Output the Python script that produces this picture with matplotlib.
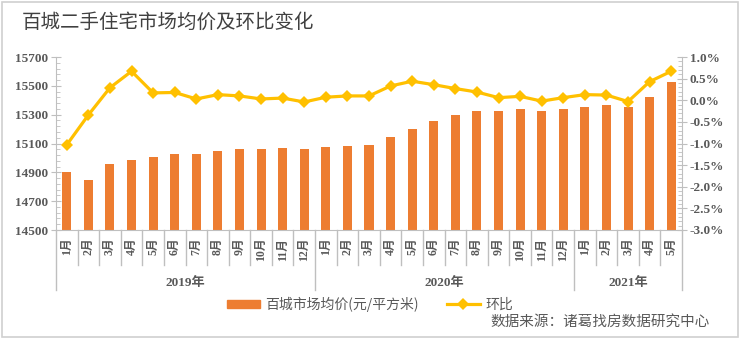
import numpy as np
import matplotlib.pyplot as plt
from matplotlib.ticker import MultipleLocator, FixedLocator, FuncFormatter
from matplotlib.lines import Line2D
from matplotlib.patches import Patch, Rectangle
import matplotlib.transforms as mtransforms

cjk = ['Noto Sans CJK SC', 'DejaVu Sans']
num_font = ['Liberation Serif', 'Noto Sans CJK SC']
gray = '#595959'

years = ['2019年', '2020年', '2021年']
months_per_year = [12, 12, 5]
month_labels = [f'{m}月' for n in months_per_year for m in range(1, n + 1)]

avg_price = [14900, 14850, 14960, 14983, 15006, 15029, 15029, 15050, 15060, 15064,
             15068, 15064, 15073, 15082, 15092, 15143, 15203, 15256, 15295, 15323,
             15328, 15341, 15328, 15337, 15351, 15365, 15355, 15422, 15526]
mom_change = [-1.03, -0.34, 0.29, 0.67, 0.17, 0.18, 0.03, 0.13, 0.10, 0.03,
              0.05, -0.04, 0.07, 0.10, 0.10, 0.33, 0.44, 0.36, 0.27, 0.19,
              0.06, 0.09, -0.02, 0.06, 0.13, 0.12, -0.03, 0.43, 0.67]

bar_color = '#ED7D31'
line_color = '#FFC000'

fig = plt.figure(figsize=(7.4, 3.39), dpi=100)
ax = fig.add_axes([56 / 740, 1 - 230 / 339, (682 - 56) / 740, (230 - 57) / 339])
ax2 = ax.twinx()

x = np.arange(len(avg_price))
ax.bar(x, avg_price, width=0.42, color=bar_color, zorder=2)
ax2.plot(x, mom_change, color=line_color, lw=2.3, marker='D', ms=6.5,
         markeredgewidth=0, zorder=3)

ax.set_xlim(-0.5, len(x) - 0.5)
ax.set_ylim(14500, 15700)
ax2.set_ylim(-3.0, 1.0)

ax.yaxis.set_major_locator(FixedLocator(np.arange(14500, 15701, 200)))
ax.yaxis.set_minor_locator(FixedLocator(np.arange(14500, 15701, 40)))
ax2.yaxis.set_major_locator(MultipleLocator(0.5))
ax2.yaxis.set_minor_locator(MultipleLocator(0.1))
ax2.yaxis.set_major_formatter(FuncFormatter(lambda v, p: f'{v:.1f}%'))

for a in (ax, ax2):
    for s in a.spines.values():
        s.set_visible(False)
    a.tick_params(axis='y', which='major', direction='inout', length=7,
                  color='#bfbfbf', labelcolor=gray, labelsize=9.5, pad=2)
    a.tick_params(axis='y', which='minor', direction='in', length=3, color='#bfbfbf')
    for lab in a.get_yticklabels():
        lab.set_fontfamily(num_font)
        lab.set_fontweight('bold')
ax.spines['left'].set_visible(True)
ax.spines['left'].set_color('#bfbfbf')
ax.spines['bottom'].set_visible(True)
ax.spines['bottom'].set_color('#bfbfbf')
ax2.spines['right'].set_visible(True)
ax2.spines['right'].set_color('#bfbfbf')
ax.set_xticks([])

# multi-level category axis
trans = mtransforms.blended_transform_factory(ax.transData, ax.transAxes)
for i, lab in enumerate(month_labels):
    ax.text(i, -0.045, lab, transform=trans, rotation=90, ha='center', va='top',
            fontsize=8.5, color=gray, fontweight='bold', family=num_font)
bounds = np.concatenate([[0], np.cumsum(months_per_year)]) - 0.5
for b in range(len(x) + 1):
    xb = b - 0.5
    low = -0.347 if xb in bounds else -0.202
    ax.plot([xb, xb], [0, low], transform=trans, color='#bfbfbf', lw=1, clip_on=False)
for k, yr in enumerate(years):
    ax.text((bounds[k] + bounds[k + 1]) / 2, -0.306, yr, transform=trans,
            ha='center', va='center', fontsize=9.5, color=gray, fontweight='bold',
            family=num_font)

fig.text(22 / 740, 1 - 22 / 339, '百城二手住宅市场均价及环比变化', fontsize=14,
         color='#404040', va='center', ha='left', family=cjk)

handles = [Patch(color=bar_color, label='百城市场均价(元/平方米)'),
           Line2D([], [], color=line_color, lw=2.3, marker='D', ms=6,
                  markeredgewidth=0, label='环比')]
fig.legend(handles=handles, loc='center', bbox_to_anchor=(0.5, 1 - 304 / 339),
           ncol=2, frameon=False, prop={'family': cjk, 'size': 10},
           labelcolor=gray, handlelength=2.4, handleheight=0.5, columnspacing=2.0,
           handletextpad=0.4)

fig.text(710 / 740, 1 - 322 / 339, '数据来源：诸葛找房数据研究中心', fontsize=10.5,
         color=gray, ha='right', va='center', style='italic', family=cjk)

fig.patches.append(Rectangle((2 / 740, 2 / 339), 736 / 740, 335 / 339,
                             transform=fig.transFigure, fill=False,
                             edgecolor='#d0d0d0', lw=1.2))

fig.savefig('out.png', dpi=100)
